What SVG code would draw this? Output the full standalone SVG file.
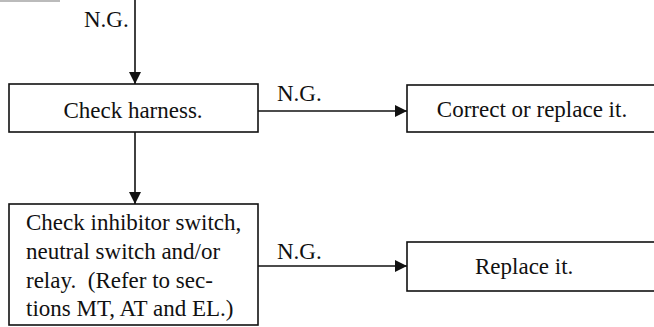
<svg xmlns="http://www.w3.org/2000/svg" width="654" height="327" viewBox="0 0 654 327">
<defs>
<style>
text{font-family:"Liberation Serif","Times New Roman",serif;font-size:23px;fill:#111;}
.box{fill:#fff;stroke:#111;stroke-width:1.6;}
.wire{stroke:#111;stroke-width:1.6;fill:none;}
.c{text-anchor:middle;}
</style>
<marker id="ah" viewBox="0 0 12 12" refX="12" refY="6" markerWidth="12" markerHeight="12" markerUnits="userSpaceOnUse" orient="auto">
<path d="M0,0 L12,6 L0,12 Z" fill="#111"/>
</marker>
</defs>
<rect width="654" height="327" fill="#fff"/>
<line x1="0" y1="1" x2="60" y2="1" stroke="#bbb" stroke-width="2"/>
<g id="connectors">
<line class="wire" x1="135" y1="0" x2="135" y2="84" marker-end="url(#ah)"/>
<line class="wire" x1="135" y1="132" x2="135" y2="204" marker-end="url(#ah)"/>
<line class="wire" x1="258" y1="111" x2="407" y2="111" marker-end="url(#ah)"/>
<line class="wire" x1="258" y1="266" x2="407" y2="266" marker-end="url(#ah)"/>
<text x="84" y="27">N.G.</text>
<text x="277" y="101">N.G.</text>
<text x="277" y="259">N.G.</text>
</g>
<g id="harness">
<rect class="box" x="9" y="84" width="249" height="48"/>
<text class="c" x="133" y="118">Check harness.</text>
</g>
<g id="correct">
<rect class="box" x="407" y="85" width="260" height="47"/>
<text class="c" x="532" y="117">Correct or replace it.</text>
</g>
<g id="inhibitor">
<rect class="box" x="9" y="204" width="249" height="121"/>
<text x="26" y="230" xml:space="preserve">Check inhibitor switch,</text>
<text x="26" y="259" xml:space="preserve">neutral switch and/or</text>
<text x="26" y="288" xml:space="preserve">relay.  (Refer to sec-</text>
<text x="26" y="316" xml:space="preserve">tions MT, AT and EL.)</text>
</g>
<g id="replace">
<rect class="box" x="407" y="242" width="260" height="49"/>
<text x="475" y="274">Replace it.</text>
</g>
</svg>
